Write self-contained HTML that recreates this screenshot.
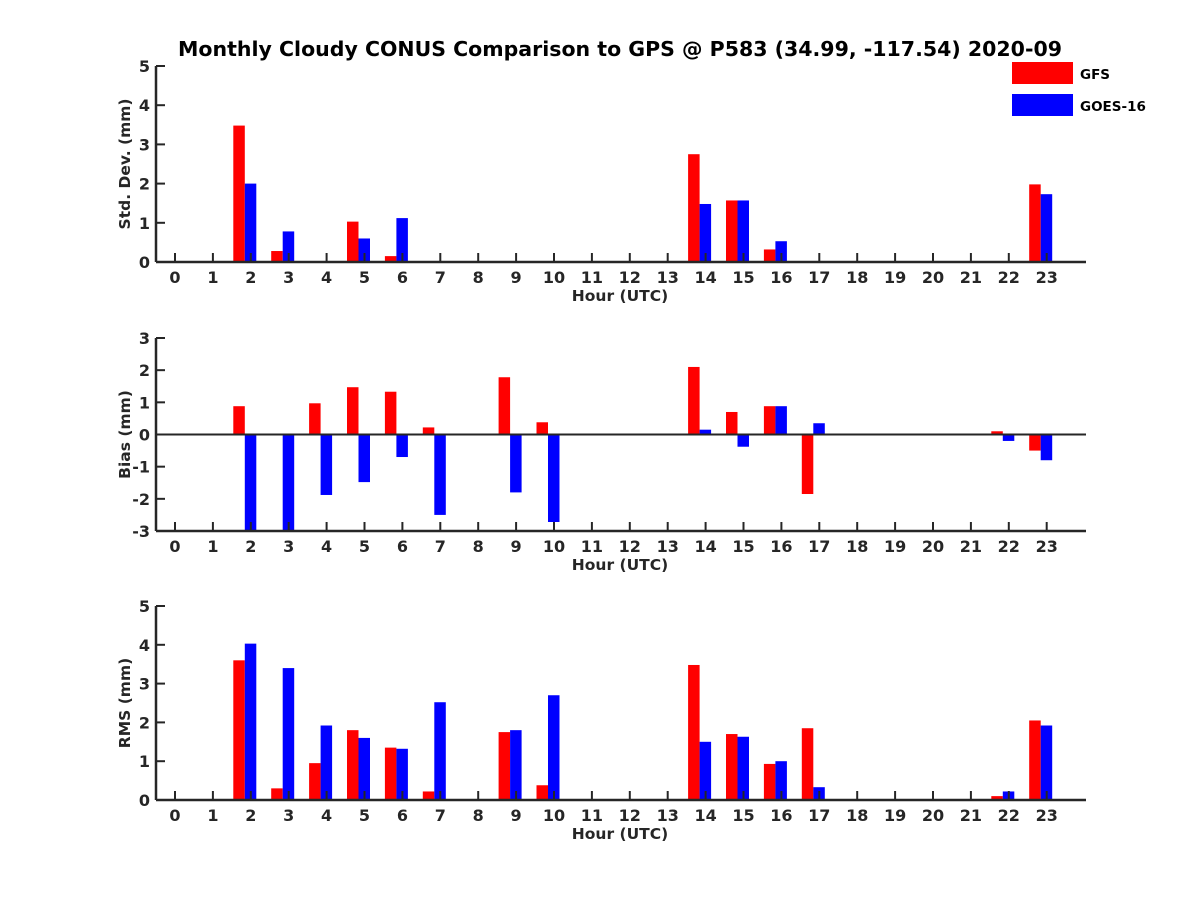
<!DOCTYPE html>
<html><head><meta charset="utf-8"><style>
body{margin:0;background:#fff}
svg text{font-family:"DejaVu Sans","Liberation Sans",sans-serif;font-weight:bold;fill:#262626}
</style></head><body>
<svg id="c" width="1200" height="900" xmlns="http://www.w3.org/2000/svg">
<text x="620" y="56" text-anchor="middle" font-size="20.5" style="fill:#000">Monthly Cloudy CONUS Comparison to GPS @ P583 (34.99, -117.54) 2020-09</text>
<g>
<rect x="1012" y="62" width="61" height="22" fill="#ff0000"/>
<text x="1080" y="79" font-size="13.5" style="fill:#000">GFS</text>
<rect x="1012" y="94" width="61" height="22" fill="#0000ff"/>
<text x="1080" y="111" font-size="13.5" style="fill:#000">GOES-16</text>
</g>
</svg>
<script>
const hours = [0,1,2,3,4,5,6,7,8,9,10,11,12,13,14,15,16,17,18,19,20,21,22,23];
const stdGFS  = [0,0,3.48,0.28,0,1.03,0.15,0,0,0,0,0,0,0,2.75,1.57,0.32,0,0,0,0,0,0,1.98];
const stdGOES = [0,0,2.0,0.78,0,0.6,1.12,0,0,0,0,0,0,0,1.48,1.57,0.53,0,0,0,0,0,0,1.73];
const biasGFS  = [0,0,0.88,0,0.97,1.47,1.33,0.22,0,1.78,0.38,0,0,0,2.1,0.7,0.88,-1.85,0,0,0,0,0.1,-0.5];
const biasGOES = [0,0,-3.5,-3.5,-1.88,-1.48,-0.7,-2.5,0,-1.8,-2.72,0,0,0,0.15,-0.38,0.88,0.35,0,0,0,0,-0.2,-0.8];
const rmsGFS  = [0,0,3.6,0.3,0.95,1.8,1.35,0.22,0,1.75,0.38,0,0,0,3.48,1.7,0.93,1.85,0,0,0,0,0.1,2.05];
const rmsGOES = [0,0,4.03,3.4,1.92,1.6,1.32,2.52,0,1.8,2.7,0,0,0,1.5,1.63,1.0,0.33,0,0,0,0,0.22,1.92];
const stdTicks=[0,1,2,3,4,5], biasTicks=[-3,-2,-1,0,1,2,3], rmsTicks=[0,1,2,3,4,5];

const svg=document.getElementById('c');
const NS='http://www.w3.org/2000/svg';
function mk(t,a,parent){const e=document.createElementNS(NS,t);for(const k in a)e.setAttribute(k,a[k]);(parent||svg).appendChild(e);return e;}
const X0=156,X1=1086;
const xs=h=>175+h*37.9;

function panel(name,top,bottom,ymin,ymax,ticks,gfs,goes,ylabel,zeroLine){
  const g=mk('g',{});
  
  
  const ys=v=>bottom-(v-ymin)/(ymax-ymin)*(bottom-top);
  const clip=mk('clipPath',{id:'cl'+name},g);
  mk('rect',{x:X0,y:top,width:X1-X0,height:bottom-top},clip);
  const bars=mk('g',{'clip-path':'url(#cl'+name+')'},g);
  hours.forEach((h,i)=>{
    [[gfs[i],-17.5,'#ff0000','gfs'],[goes[i],-6,'#0000ff','goes']].forEach(([v,off,col,s])=>{
      if(v===0)return;
      const y1=ys(Math.max(v,0)),y2=ys(Math.min(v,0));
      const r=mk('rect',{x:xs(h)+off,y:y1,width:11.5,height:y2-y1,fill:col},bars);
      
      
    });
  });
  if(zeroLine){const z=mk('line',{x1:X0,x2:X1,y1:ys(0),y2:ys(0),stroke:'#262626','stroke-width':2},g);
    }
  const ax=mk('line',{x1:X0,x2:X1,y1:bottom,y2:bottom,stroke:'#262626','stroke-width':2.5},g);
  
  const ay=mk('line',{x1:X0,x2:X0,y1:top,y2:bottom,stroke:'#262626','stroke-width':2.5},g);
  
  hours.forEach(h=>{
    mk('line',{x1:xs(h),x2:xs(h),y1:bottom,y2:bottom-9,stroke:'#262626','stroke-width':2},g);
    const t=mk('text',{x:xs(h),y:bottom+21,'text-anchor':'middle','font-size':16},g);
    t.textContent=h;
    
  });
  ticks.forEach(v=>{
    mk('line',{x1:X0,x2:X0+9,y1:ys(v),y2:ys(v),stroke:'#262626','stroke-width':2},g);
    const t=mk('text',{x:X0-6,y:ys(v)+6,'text-anchor':'end','font-size':16},g);
    t.textContent=v;
    
  });
  const xl=mk('text',{x:620,y:bottom+39,'text-anchor':'middle','font-size':15.5},g);
  xl.textContent='Hour (UTC)';
  
  const cy=(top+bottom)/2;
  const yl=mk('text',{x:130,y:cy,'text-anchor':'middle','font-size':15.5,transform:'rotate(-90 130 '+cy+')'},g);
  yl.textContent=ylabel;
  
}
panel('std',66,262,0,5,stdTicks,stdGFS,stdGOES,'Std. Dev. (mm)',false);
panel('bias',338,531,-3,3,biasTicks,biasGFS,biasGOES,'Bias (mm)',true);
panel('rms',606,800,0,5,rmsTicks,rmsGFS,rmsGOES,'RMS (mm)',false);
</script>
</body></html>
